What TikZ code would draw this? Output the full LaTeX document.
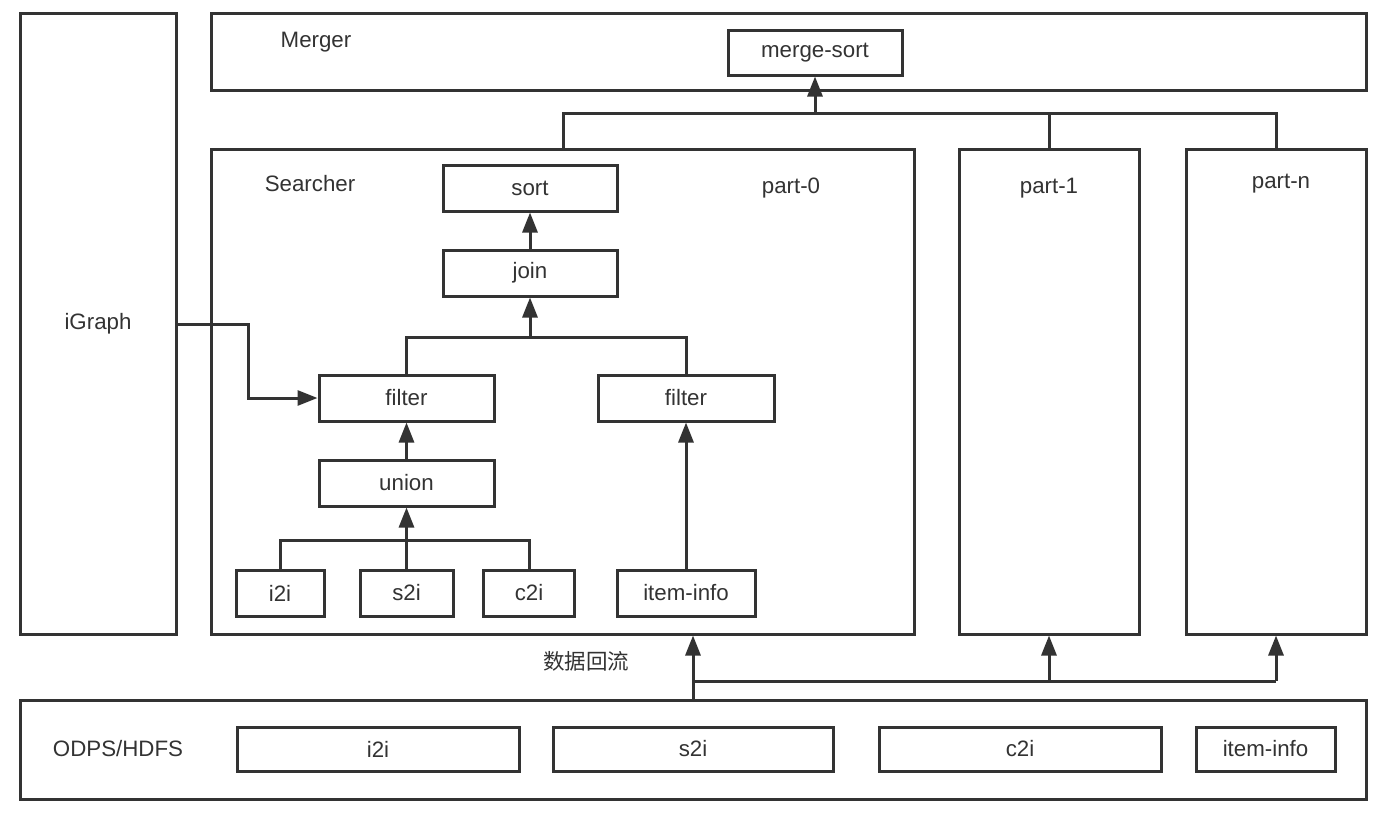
\documentclass[tikz,border=0pt]{standalone}
\usepackage{fontspec}
\setmainfont{Liberation Sans}
\newfontfamily\cjk{Noto Sans CJK SC}
\usetikzlibrary{arrows.meta}
\definecolor{ink}{HTML}{333333}
\begin{document}
\begin{tikzpicture}[x=1pt,y=-1pt,
  lbl/.style={font=\fontsize{22.3}{26}\selectfont, text=ink, inner sep=0pt},
  box/.style={draw=ink, line width=3pt, inner sep=0pt, font=\fontsize{22.3}{26}\selectfont, text=ink},
  conn/.style={draw=ink, line width=3pt},
  arr/.style={conn, -{Triangle[length=20pt,width=15pt]}}]
\useasboundingbox[fill=white] (0,0) rectangle (1400,819);
% big boxes
\node[box, minimum width=156pt, minimum height=621pt] (igraph) at (98,323.5) {};
\node[box, minimum width=1155pt, minimum height=77pt] (merger) at (788.5,51.5) {};
\node[box, minimum width=703pt, minimum height=485pt] (searcher) at (562.5,391.5) {};
\node[box, minimum width=180pt, minimum height=485pt] (part1) at (1049,391.5) {};
\node[box, minimum width=180pt, minimum height=485pt] (partn) at (1276,391.5) {};
\node[box, minimum width=1346pt, minimum height=99pt] (odps) at (693,749.5) {};
% labels
\node[lbl] (lmerger) at (316,42) {Merger};
\node[lbl] (lsearcher) at (310,184) {Searcher};
\node[lbl] (lpart0) at (791,188) {part-0};
\node[lbl] (lpart1) at (1049,188) {part-1};
\node[lbl] (lpartn) at (1281,184) {part-n};
\node[lbl] (ligraph) at (98,324) {iGraph};
\node[lbl] (lodps) at (118,749) {ODPS/HDFS};
\node[lbl, font=\cjk\fontsize{21.5}{25}\selectfont] (lflow) at (586,661) {数据回流};
% small boxes
\node[box, minimum width=174pt, minimum height=45pt] (mergesort) at (815,52.5) {merge-sort};
\node[box, minimum width=174pt, minimum height=46pt] (sort) at (530,188) {sort};
\node[box, minimum width=174pt, minimum height=46pt] (join) at (530,273) {join};
\node[box, minimum width=175pt, minimum height=46pt] (filter1) at (406.5,398) {filter};
\node[box, minimum width=176pt, minimum height=46pt] (filter2) at (686,398) {filter};
\node[box, minimum width=175pt, minimum height=46pt] (union) at (406.5,483) {union};
\node[box, minimum width=88pt, minimum height=46pt] (i2i) at (280,593) {i2i};
\node[box, minimum width=93pt, minimum height=46pt] (s2i) at (406.5,593) {s2i};
\node[box, minimum width=91pt, minimum height=46pt] (c2i) at (529,593) {c2i};
\node[box, minimum width=138pt, minimum height=46pt] (iteminfo) at (686,593) {item-info};
\node[box, minimum width=282pt, minimum height=44pt] (bi2i) at (378,749) {i2i};
\node[box, minimum width=280pt, minimum height=44pt] (bs2i) at (693,749) {s2i};
\node[box, minimum width=282pt, minimum height=44pt] (bc2i) at (1020,749) {c2i};
\node[box, minimum width=139pt, minimum height=44pt] (bitem) at (1265.5,749) {item-info};
% merge tree
\coordinate (t0) at (563,113);
\coordinate (tn) at (1276,113);
\draw[conn] (t0 |- searcher.north) -- (t0) -- (tn) -- (tn |- partn.north);
\draw[conn] (part1.north |- t0) -- (part1.north);
\draw[arr] (mergesort.south |- t0) -- (mergesort.south);
% searcher internals
\draw[arr] (join.north) -- (sort.south);
\coordinate (fj) at (530,337);
\draw[conn] (filter1.north) |- (filter2.north |- fj) -- (filter2.north);
\draw[arr] (join.south |- fj) -- (join.south);
\draw[arr] (union.north) -- (filter1.south);
\coordinate (uj) at (407,540);
\draw[conn] (i2i.north) |- (c2i.north |- uj) -- (c2i.north);
\draw[arr] (s2i.north) -- (union.south);
\draw[arr] (iteminfo.north) -- (filter2.south);
% iGraph
\coordinate (g1) at (248,324);
\draw[arr] (igraph.east |- g1) -- (g1) |- (filter1.west);
% data flow
\coordinate (b0) at (693,681);
\draw[arr] (b0 |- odps.north) -- (b0 |- searcher.south);
\draw[conn] (b0) -- (partn.south |- b0);
\draw[arr] (part1.south |- b0) -- (part1.south);
\draw[arr] (partn.south |- b0) -- (partn.south);
\end{tikzpicture}
\end{document}
